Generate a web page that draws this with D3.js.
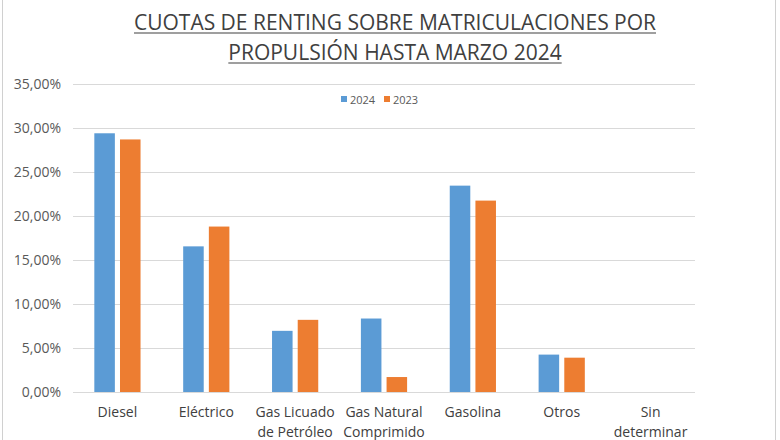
<!DOCTYPE html>
<html>
<head>
<meta charset="utf-8">
<script src="https://cdn.jsdelivr.net/npm/d3@7"></script>
<style>
  body { margin: 0; background: #fff; }
  svg text { font-family: "Open Sans", sans-serif; }
</style>
</head>
<body>
<div id="chart"></div>
<script>
const categories = [
    ['Diesel'],
    ['Eléctrico'],
    ['Gas Licuado', 'de Petróleo'],
    ['Gas Natural', 'Comprimido'],
    ['Gasolina'],
    ['Otros'],
    ['Sin', 'determinar']
];
const seriesNames = ['2024', '2023'];
const values2024 = [29.4, 16.55, 6.95, 8.35, 23.45, 4.25, 0];
const values2023 = [28.7, 18.8, 8.2, 1.7, 21.75, 3.9, 0];
const yTicks = [0, 5, 10, 15, 20, 25, 30, 35];
const titleLines = ['CUOTAS DE RENTING SOBRE MATRICULACIONES POR', 'PROPULSIÓN HASTA MARZO 2024'];
const colors = ['#5B9BD5', '#ED7D31'];

function createBarChart(containerId)
{
    const width = 780;
    const height = 440;
    const margin = { top: 84, right: 85, bottom: 48, left: 73 };

    const svg = d3.select(containerId)
        .append('svg')
        .attr('width', width)
        .attr('height', height);

    // frame of the screenshot
    svg.append('rect')
        .attr('x', 2.5).attr('y', -2)
        .attr('width', 773).attr('height', height + 4)
        .attr('fill', 'none')
        .attr('stroke', '#d0d0d0');

    const keys = categories.map((d, i) => i);

    const x0 = d3.scaleBand()
        .domain(keys)
        .range([margin.left, width - margin.right])
        .paddingInner(0.48)
        .paddingOuter(0.24);

    const x1 = d3.scaleBand()
        .domain(seriesNames)
        .range([0, x0.bandwidth()])
        .paddingInner(0.2);

    const y = d3.scaleLinear()
        .domain([0, 35])
        .range([height - margin.bottom, margin.top]);

    // gridlines
    svg.append('g')
        .selectAll('line')
        .data(yTicks)
        .join('line')
        .attr('x1', margin.left)
        .attr('x2', width - margin.right)
        .attr('y1', d => Math.round(y(d)) + 0.5)
        .attr('y2', d => Math.round(y(d)) + 0.5)
        .attr('stroke', '#d9d9d9')
        .attr('stroke-width', 1);

    // y axis labels
    const yAxis = d3.axisLeft(y)
        .tickValues(yTicks)
        .tickSize(0)
        .tickPadding(12)
        .tickFormat(d => d3.format('.2f')(d).replace('.', ',') + '%');
    const gy = svg.append('g')
        .attr('transform', `translate(${margin.left}, 0)`)
        .call(yAxis);
    gy.select('.domain').remove();
    gy.selectAll('text')
        .attr('fill', '#595959')
        .style('font-size', '14px');

    // bars
    const series = [values2024, values2023];
    series.forEach((vals, s) => {
        svg.append('g')
            .selectAll('rect')
            .data(vals)
            .join('rect')
            .attr('x', (d, i) => x0(i) + x1(seriesNames[s]))
            .attr('y', d => y(d))
            .attr('width', x1.bandwidth())
            .attr('height', d => y(0) - y(d))
            .attr('fill', colors[s]);
    });

    // x labels
    const xl = svg.append('g')
        .selectAll('text')
        .data(categories)
        .join('text')
        .attr('x', (d, i) => x0(i) + x0.bandwidth() / 2)
        .attr('y', height - margin.bottom + 25)
        .attr('text-anchor', 'middle')
        .attr('fill', '#404040')
        .style('font-size', '14px');
    xl.selectAll('tspan')
        .data(d => d)
        .join('tspan')
        .attr('x', function () { return d3.select(this.parentNode).attr('x'); })
        .attr('dy', (d, i) => i === 0 ? 0 : 20)
        .text(d => d);

    // legend
    const legend = svg.append('g')
        .attr('transform', 'translate(341, 100)');
    seriesNames.forEach((name, i) => {
        const g = legend.append('g').attr('transform', `translate(${i * 43}, 0)`);
        g.append('rect')
            .attr('x', 0).attr('y', -4)
            .attr('width', 6).attr('height', 6)
            .attr('fill', colors[i]);
        g.append('text')
            .attr('x', 9).attr('y', 3.5)
            .attr('fill', '#595959')
            .style('font-size', '11px')
            .text(name);
    });

    // title
    const cx = 395;
    titleLines.forEach((line, i) => {
        const by = 30 + i * 30;
        const t = svg.append('text')
            .attr('x', cx)
            .attr('y', by)
            .attr('text-anchor', 'middle')
            .attr('fill', '#404040')
            .style('font-size', '21px')
            .text(line);
        const w = t.node().getComputedTextLength();
        svg.append('line')
            .attr('x1', cx - w / 2).attr('x2', cx + w / 2)
            .attr('y1', by + 3).attr('y2', by + 3)
            .attr('stroke', '#404040')
            .attr('stroke-width', 1.2);
    });
}

createBarChart('#chart');
</script>
</body>
</html>
